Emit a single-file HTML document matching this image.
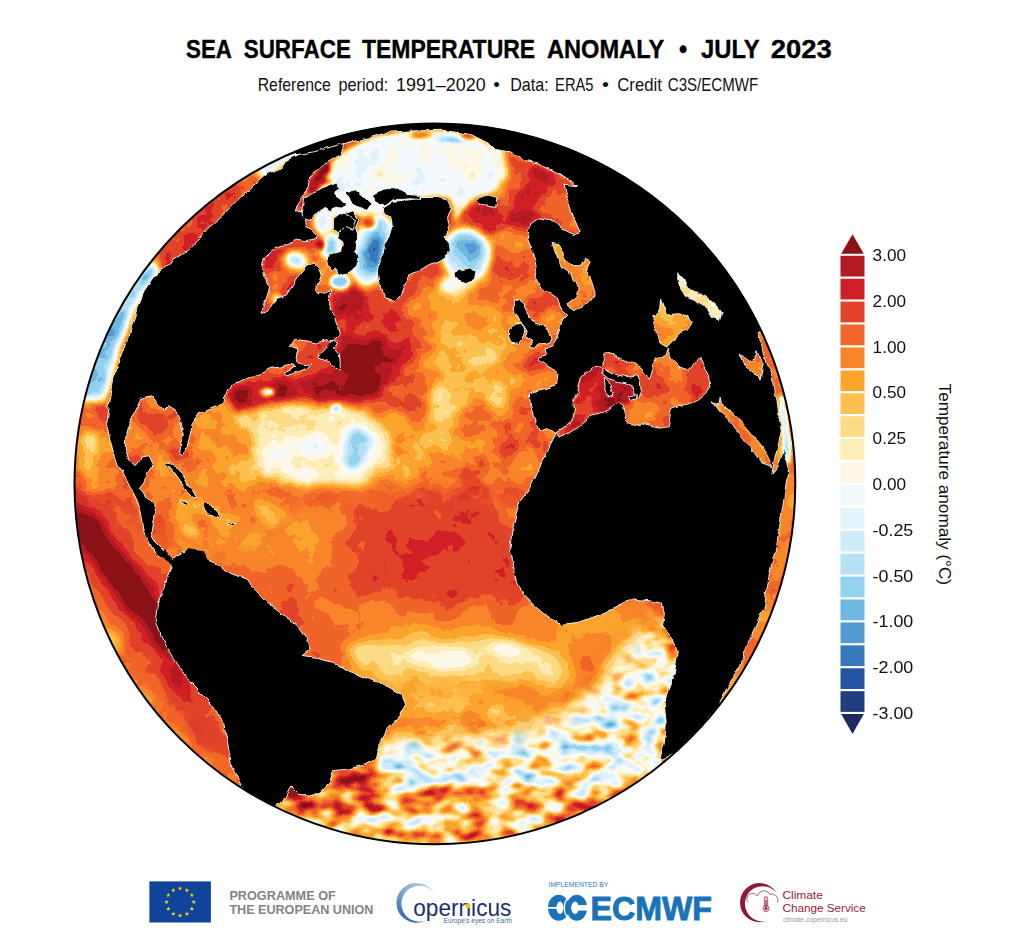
<!DOCTYPE html>
<html><head><meta charset="utf-8"><title>Sea surface temperature anomaly</title>
<style>
html,body{margin:0;padding:0;background:#fff;}
body{width:1015px;height:947px;overflow:hidden;font-family:"Liberation Sans",sans-serif;}
svg{display:block;position:absolute;left:0;top:0;}
text{font-family:"Liberation Sans",sans-serif;fill:#111;}
</style></head><body>
<svg width="1015" height="947" viewBox="0 0 1015 947">
<rect width="1015" height="947" fill="#fff"/>
<g font-size="25.2" font-weight="bold">
<text x="186" y="57.5" textLength="45.9" lengthAdjust="spacingAndGlyphs" style="fill:#000;stroke:#000;stroke-width:0.35">SEA</text>
<text x="243.7" y="57.5" textLength="107.2" lengthAdjust="spacingAndGlyphs" style="fill:#000;stroke:#000;stroke-width:0.35">SURFACE</text>
<text x="361.9" y="57.5" textLength="173.3" lengthAdjust="spacingAndGlyphs" style="fill:#000;stroke:#000;stroke-width:0.35">TEMPERATURE</text>
<text x="546.9" y="57.5" textLength="117.3" lengthAdjust="spacingAndGlyphs" style="fill:#000;stroke:#000;stroke-width:0.35">ANOMALY</text>
<text x="679.0" y="57.5" textLength="8.2" lengthAdjust="spacingAndGlyphs" style="fill:#000;stroke:#000;stroke-width:0.35">•</text>
<text x="701" y="57.5" textLength="58.6" lengthAdjust="spacingAndGlyphs" style="fill:#000;stroke:#000;stroke-width:0.35">JULY</text>
<text x="770.7" y="57.5" textLength="61" lengthAdjust="spacingAndGlyphs" style="fill:#000;stroke:#000;stroke-width:0.35">2023</text>
</g>
<g font-size="18.4">
<text x="257.7" y="90.5" textLength="73" lengthAdjust="spacingAndGlyphs">Reference</text>
<text x="338.4" y="90.5" textLength="49.9" lengthAdjust="spacingAndGlyphs">period:</text>
<text x="396" y="90.5" textLength="89.7" lengthAdjust="spacingAndGlyphs">1991–2020</text>
<text x="493.2" y="90.5" textLength="6.6" lengthAdjust="spacingAndGlyphs">•</text>
<text x="510.2" y="90.5" textLength="38.5" lengthAdjust="spacingAndGlyphs">Data:</text>
<text x="555.1" y="90.5" textLength="38.4" lengthAdjust="spacingAndGlyphs">ERA5</text>
<text x="602" y="90.5" textLength="6.9" lengthAdjust="spacingAndGlyphs">•</text>
<text x="617.3" y="90.5" textLength="44.6" lengthAdjust="spacingAndGlyphs">Credit</text>
<text x="667.8" y="90.5" textLength="90.4" lengthAdjust="spacingAndGlyphs">C3S/ECMWF</text>
</g>
<defs><clipPath id="gc"><circle cx="434.9" cy="483.8" r="360.9"/></clipPath>
<filter id="b10" color-interpolation-filters="sRGB" x="-20%" y="-20%" width="140%" height="140%"><feGaussianBlur stdDeviation="10"/></filter>
<filter id="b5" color-interpolation-filters="sRGB" x="-20%" y="-20%" width="140%" height="140%"><feGaussianBlur stdDeviation="4.5"/></filter>
<filter id="b2" color-interpolation-filters="sRGB" x="-20%" y="-20%" width="140%" height="140%"><feGaussianBlur stdDeviation="2.2"/></filter>
<filter id="b14" color-interpolation-filters="sRGB" filterUnits="userSpaceOnUse" x="40" y="90" width="800" height="790"><feGaussianBlur stdDeviation="12"/></filter>
<filter id="cm" color-interpolation-filters="sRGB" filterUnits="userSpaceOnUse" x="60" y="110" width="760" height="750">
<feTurbulence type="fractalNoise" baseFrequency="0.03" numOctaves="4" seed="7" result="t"/>
<feColorMatrix in="t" type="matrix" values="1 0 0 0 0  1 0 0 0 0  1 0 0 0 0  0 0 0 0 1" result="n"/>
<feComposite in="SourceGraphic" in2="n" operator="arithmetic" k1="0" k2="1" k3="0.13" k4="-0.065" result="s"/>
<feComponentTransfer in="s" result="c"><feFuncR type="discrete" tableValues="0.106 0.122 0.141 0.220 0.318 0.435 0.576 0.706 0.804 0.886 0.953 0.996 0.996 0.992 0.992 0.984 0.976 0.949 0.886 0.816 0.706 0.545"/><feFuncG type="discrete" tableValues="0.165 0.247 0.333 0.471 0.608 0.718 0.824 0.882 0.922 0.953 0.980 0.976 0.929 0.859 0.753 0.647 0.522 0.396 0.263 0.122 0.102 0.071"/><feFuncB type="discrete" tableValues="0.376 0.502 0.639 0.737 0.824 0.890 0.941 0.965 0.973 0.980 0.992 0.902 0.710 0.518 0.310 0.176 0.165 0.161 0.161 0.153 0.133 0.094"/></feComponentTransfer>
<feComposite in="c" in2="SourceAlpha" operator="in"/>
</filter>
<filter id="cm1" color-interpolation-filters="sRGB" filterUnits="userSpaceOnUse" x="60" y="110" width="760" height="750">
<feTurbulence type="fractalNoise" baseFrequency="0.035" numOctaves="4" seed="11" result="t"/>
<feColorMatrix in="t" type="matrix" values="1 0 0 0 0  1 0 0 0 0  1 0 0 0 0  0 0 0 0 1" result="n"/>
<feComposite in="SourceGraphic" in2="n" operator="arithmetic" k1="0" k2="1" k3="0.25" k4="-0.125" result="s"/>
<feComponentTransfer in="s" result="c"><feFuncR type="discrete" tableValues="0.106 0.122 0.141 0.220 0.318 0.435 0.576 0.706 0.804 0.886 0.953 0.996 0.996 0.992 0.992 0.984 0.976 0.949 0.886 0.816 0.706 0.545"/><feFuncG type="discrete" tableValues="0.165 0.247 0.333 0.471 0.608 0.718 0.824 0.882 0.922 0.953 0.980 0.976 0.929 0.859 0.753 0.647 0.522 0.396 0.263 0.122 0.102 0.071"/><feFuncB type="discrete" tableValues="0.376 0.502 0.639 0.737 0.824 0.890 0.941 0.965 0.973 0.980 0.992 0.902 0.710 0.518 0.310 0.176 0.165 0.161 0.161 0.153 0.133 0.094"/></feComponentTransfer>
<feComposite in="c" in2="SourceAlpha" operator="in"/>
</filter>
<filter id="cm2" color-interpolation-filters="sRGB" filterUnits="userSpaceOnUse" x="60" y="110" width="760" height="750">
<feTurbulence type="fractalNoise" baseFrequency="0.045 0.07" numOctaves="2" seed="5" result="t"/>
<feColorMatrix in="t" type="matrix" values="1 0 0 0 0  1 0 0 0 0  1 0 0 0 0  0 0 0 0 1" result="n"/>
<feComposite in="SourceGraphic" in2="n" operator="arithmetic" k1="0" k2="1" k3="0.85" k4="-0.425" result="s"/>
<feComponentTransfer in="s" result="c"><feFuncR type="discrete" tableValues="0.106 0.122 0.141 0.220 0.318 0.435 0.576 0.706 0.804 0.886 0.953 0.996 0.996 0.992 0.992 0.984 0.976 0.949 0.886 0.816 0.706 0.545"/><feFuncG type="discrete" tableValues="0.165 0.247 0.333 0.471 0.608 0.718 0.824 0.882 0.922 0.953 0.980 0.976 0.929 0.859 0.753 0.647 0.522 0.396 0.263 0.122 0.102 0.071"/><feFuncB type="discrete" tableValues="0.376 0.502 0.639 0.737 0.824 0.890 0.941 0.965 0.973 0.980 0.992 0.902 0.710 0.518 0.310 0.176 0.165 0.161 0.161 0.153 0.133 0.094"/></feComponentTransfer>
<feComposite in="c" in2="SourceAlpha" operator="in"/>
</filter>
<filter id="dsp" color-interpolation-filters="sRGB" filterUnits="userSpaceOnUse" x="60" y="110" width="760" height="750">
<feTurbulence type="fractalNoise" baseFrequency="0.09" numOctaves="3" seed="2" result="t"/>
<feDisplacementMap in="SourceGraphic" in2="t" scale="5" xChannelSelector="R" yChannelSelector="G"/>
</filter>
<g id="fld">
<rect x="60" y="110" width="760" height="750" fill="#cbcbcb"/>
<g filter="url(#b10)">
<ellipse cx="470" cy="350" rx="60" ry="75" fill="#bebebe" opacity="1" transform="rotate(0 470 350)"/>
<ellipse cx="466" cy="362" rx="34" ry="54" fill="#aeaeae" opacity="1" transform="rotate(15 466 362)"/>
<ellipse cx="420" cy="440" rx="50" ry="22" fill="#afafaf" opacity="1" transform="rotate(0 420 440)"/>
<ellipse cx="330" cy="442" rx="150" ry="40" fill="#b6b6b6" opacity="1" transform="rotate(3 330 442)"/>
<ellipse cx="250" cy="520" rx="90" ry="40" fill="#b8b8b8" opacity="1" transform="rotate(20 250 520)"/>
<path d="M335.0,285.0 L400.0,298.0 L425.0,340.0 L410.0,400.0 L340.0,405.0 L325.0,340.0Z" fill="#dddddd" opacity="1"/>
<ellipse cx="438" cy="548" rx="88" ry="55" fill="#dadada" opacity="1" transform="rotate(0 438 548)"/>
<ellipse cx="495" cy="575" rx="38" ry="35" fill="#dadada" opacity="1" transform="rotate(0 495 575)"/>
<ellipse cx="450" cy="618" rx="120" ry="16" fill="#c3c3c3" opacity="1" transform="rotate(0 450 618)"/>
<ellipse cx="600" cy="630" rx="62" ry="28" fill="#b9b9b9" opacity="1" transform="rotate(0 600 630)"/>
<path d="M350.0,645.0 L400.0,636.0 L470.0,634.0 L540.0,643.0 L575.0,663.0 L570.0,685.0 L520.0,684.0 L450.0,682.0 L390.0,682.0 L352.0,667.0Z" fill="#989898" opacity="1"/>
<ellipse cx="465" cy="712" rx="120" ry="24" fill="#b1b1b1" opacity="1" transform="rotate(5 465 712)"/>
<path d="M651.0,629.0 L668.0,640.0 L678.0,660.0 L672.0,700.0 L665.0,760.0 L640.0,790.0 L560.0,795.0 L480.0,790.0 L400.0,782.0 L378.0,770.0 L380.0,740.0 L430.0,742.0 L500.0,736.0 L560.0,716.0 L590.0,690.0 L620.0,660.0Z" fill="#838383" opacity="1"/>
<ellipse cx="470" cy="832" rx="190" ry="30" fill="#a3a3a3" opacity="1" transform="rotate(0 470 832)"/>
<ellipse cx="105" cy="450" rx="30" ry="55" fill="#c2c2c2" opacity="1" transform="rotate(10 105 450)"/>
<path d="M66.0,494.0 L94.0,500.0 L124.0,538.0 L156.0,583.0 L174.0,612.0 L182.0,650.0 L192.0,690.0 L220.0,742.0 L207.0,748.0 L188.0,715.0 L168.0,682.0 L150.0,652.0 L126.0,617.0 L100.0,579.0 L70.0,545.0Z" fill="#e9e9e9" opacity="1"/>
<ellipse cx="108" cy="665" rx="20" ry="62" fill="#c2c2c2" opacity="1" transform="rotate(-35 108 665)"/>
<ellipse cx="160" cy="745" rx="14" ry="40" fill="#c2c2c2" opacity="1" transform="rotate(-35 160 745)"/>
</g>
<g filter="url(#b5)">
<path d="M484.6,138.4 L500.6,151.9 L505.5,171.7 L502.3,190.1 L492.0,200.0 L477.2,204.9 L471.0,200.0 L487.0,193.8 L496.9,186.4 L499.4,169.2 L494.4,154.4Z" fill="#515151" opacity="1"/>
<ellipse cx="372" cy="250" rx="20" ry="36" fill="#575757" opacity="1" transform="rotate(15 372 250)"/>
<ellipse cx="372" cy="256" rx="9" ry="22" fill="#2b2b2b" opacity="1" transform="rotate(15 372 256)"/>
<ellipse cx="466" cy="255" rx="24" ry="26" fill="#575757" opacity="1" transform="rotate(0 466 255)"/>
<ellipse cx="470" cy="250" rx="13" ry="15" fill="#474747" opacity="1" transform="rotate(0 470 250)"/>
<ellipse cx="455" cy="284" rx="16" ry="9" fill="#7d7d7d" opacity="1" transform="rotate(0 455 284)"/>
<ellipse cx="490" cy="215" rx="16" ry="22" fill="#e6e6e6" opacity="1" transform="rotate(-10 490 215)"/>
<ellipse cx="520" cy="200" rx="25" ry="30" fill="#dadada" opacity="1" transform="rotate(0 520 200)"/>
<ellipse cx="545" cy="175" rx="14" ry="8" fill="#eeeeee" opacity="1" transform="rotate(25 545 175)"/>
<ellipse cx="285" cy="270" rx="22" ry="28" fill="#d6d6d6" opacity="1" transform="rotate(30 285 270)"/>
<ellipse cx="296" cy="260" rx="11" ry="7" fill="#4e4e4e" opacity="1" transform="rotate(20 296 260)"/>
<ellipse cx="331" cy="246" rx="11" ry="13" fill="#404040" opacity="1" transform="rotate(0 331 246)"/>
<path d="M70.0,400.0 L95.0,340.0 L125.0,290.0 L150.0,262.0 L160.0,270.0 L135.0,305.0 L118.0,350.0 L104.0,400.0Z" fill="#464646" opacity="1"/>
<path d="M150.0,258.0 L200.0,205.0 L250.0,172.0 L262.0,180.0 L225.0,215.0 L190.0,250.0 L165.0,272.0Z" fill="#dcdcdc" opacity="1"/>
<path d="M255.0,170.0 L290.0,150.0 L320.0,140.0 L322.0,146.0 L285.0,160.0 L265.0,178.0Z" fill="#515151" opacity="1"/>
<ellipse cx="361" cy="366" rx="27" ry="38" fill="#eeeeee" opacity="1" transform="rotate(8 361 366)"/>
<ellipse cx="362" cy="368" rx="17" ry="27" fill="#ffffff" opacity="1" transform="rotate(8 362 368)"/>
<ellipse cx="350" cy="320" rx="16" ry="30" fill="#e8e8e8" opacity="1" transform="rotate(10 350 320)"/>
<path d="M228.0,392.0 L262.0,378.0 L300.0,372.0 L342.0,380.0 L345.0,404.0 L300.0,402.0 L262.0,406.0 L232.0,412.0Z" fill="#e9e9e9" opacity="1"/>
<ellipse cx="310" cy="355" rx="18" ry="12" fill="#e8e8e8" opacity="1" transform="rotate(-20 310 355)"/>
<path d="M228.0,415.0 L280.0,404.0 L335.0,406.0 L370.0,415.0 L392.0,440.0 L390.0,470.0 L360.0,487.0 L310.0,485.0 L265.0,480.0 L250.0,455.0 L255.0,435.0Z" fill="#969696" opacity="1"/>
<path d="M262.0,452.0 L300.0,442.0 L335.0,427.0 L365.0,427.0 L380.0,445.0 L375.0,470.0 L345.0,482.0 L300.0,480.0 L270.0,470.0Z" fill="#858585" opacity="1"/>
<ellipse cx="356" cy="448" rx="13" ry="22" fill="#595959" opacity="1" transform="rotate(15 356 448)"/>
<ellipse cx="455" cy="330" rx="22" ry="14" fill="#a3a3a3" opacity="1" transform="rotate(30 455 330)"/>
<ellipse cx="472" cy="392" rx="24" ry="9" fill="#a6a6a6" opacity="1" transform="rotate(-35 472 392)"/>
<ellipse cx="440" cy="405" rx="12" ry="20" fill="#a6a6a6" opacity="1" transform="rotate(20 440 405)"/>
<ellipse cx="498" cy="400" rx="10" ry="18" fill="#a6a6a6" opacity="1" transform="rotate(0 498 400)"/>
<ellipse cx="420" cy="440" rx="30" ry="10" fill="#a8a8a8" opacity="1" transform="rotate(10 420 440)"/>
<ellipse cx="190" cy="528" rx="14" ry="6" fill="#a2a2a2" opacity="1" transform="rotate(35 190 528)"/>
<ellipse cx="440" cy="658" rx="36" ry="10" fill="#838383" opacity="1" transform="rotate(3 440 658)"/>
<ellipse cx="512" cy="650" rx="24" ry="6" fill="#858585" opacity="1" transform="rotate(8 512 650)"/>
<ellipse cx="362" cy="653" rx="14" ry="7" fill="#979797" opacity="1" transform="rotate(10 362 653)"/>
<ellipse cx="408" cy="768" rx="26" ry="28" fill="#7a7a7a" opacity="1" transform="rotate(0 408 768)"/>
<path d="M72.0,506.0 L94.0,516.0 L120.0,550.0 L146.0,586.0 L166.0,620.0 L174.0,660.0 L163.0,654.0 L145.0,628.0 L127.0,604.0 L105.0,575.0 L86.0,549.0 L71.0,530.0Z" fill="#ffffff" opacity="1"/>
<ellipse cx="112" cy="640" rx="7" ry="14" fill="#a2a2a2" opacity="1" transform="rotate(-35 112 640)"/>
<ellipse cx="135" cy="700" rx="9" ry="15" fill="#a2a2a2" opacity="1" transform="rotate(-40 135 700)"/>
<ellipse cx="90" cy="452" rx="7" ry="25" fill="#a2a2a2" opacity="1" transform="rotate(8 90 452)"/>
<ellipse cx="170" cy="740" rx="8" ry="16" fill="#a8a8a8" opacity="1" transform="rotate(-40 170 740)"/>
</g>
<g filter="url(#b2)">
<path d="M371.3,137.2 L408.2,131.0 L442.7,131.0 L472.3,134.7 L487.0,144.6 L494.4,154.4 L499.4,169.2 L496.9,186.4 L487.0,193.8 L472.3,198.7 L467.3,206.1 L460.0,213.5 L455.0,223.4 L450.1,198.7 L437.8,196.3 L423.0,196.3 L408.2,198.7 L398.4,203.7 L388.5,206.1 L381.1,213.5 L371.3,213.5 L363.9,218.4 L354.0,213.5 L339.3,218.4 L326.9,213.5 L317.1,196.3 L322.0,181.5 L326.9,171.7 L331.9,161.8 L341.7,154.4 L351.6,147.0 L363.9,142.1Z" fill="#7d7d7d" opacity="1"/>
<ellipse cx="422" cy="135.5" rx="12" ry="2.2" fill="#e2e2e2" opacity="1" transform="rotate(-2 422 135.5)"/>
<ellipse cx="467" cy="136.5" rx="8" ry="2.2" fill="#e8e8e8" opacity="1" transform="rotate(6 467 136.5)"/>
<ellipse cx="452" cy="140" rx="13" ry="2.2" fill="#3a3a3a" opacity="1" transform="rotate(3 452 140)"/>
<ellipse cx="369" cy="223" rx="7" ry="6" fill="#cbcbcb" opacity="1" transform="rotate(0 369 223)"/>
<ellipse cx="277" cy="299" rx="4" ry="4" fill="#858585" opacity="1" transform="rotate(0 277 299)"/>
<ellipse cx="320" cy="245" rx="5" ry="6" fill="#eeeeee" opacity="1" transform="rotate(0 320 245)"/>
<ellipse cx="340" cy="282" rx="10" ry="7" fill="#4b4b4b" opacity="1" transform="rotate(0 340 282)"/>
<path d="M322.3,165.4 L329.4,164.6 L330.2,170.9 L325.4,178.9 L335.0,180.4 L322.3,185.2 L317.5,191.5 L311.2,194.7 L307.2,188.4 L310.4,180.4 L315.9,174.1Z" fill="#fefefe" opacity="1"/>
<ellipse cx="303" cy="204" rx="4" ry="3" fill="#eeeeee" opacity="1" transform="rotate(0 303 204)"/>
<ellipse cx="324" cy="222" rx="10" ry="13" fill="#7e7e7e" opacity="1" transform="rotate(0 324 222)"/>
<ellipse cx="341" cy="204" rx="10" ry="8" fill="#7e7e7e" opacity="1" transform="rotate(0 341 204)"/>
<ellipse cx="345" cy="146" rx="12" ry="3" fill="#d6d6d6" opacity="1" transform="rotate(-12 345 146)"/>
<ellipse cx="318" cy="152" rx="14" ry="3" fill="#4b4b4b" opacity="1" transform="rotate(-18 318 152)"/>
<ellipse cx="353" cy="462" rx="7" ry="6" fill="#494949" opacity="1" transform="rotate(0 353 462)"/>
<ellipse cx="336" cy="408" rx="4" ry="3" fill="#4b4b4b" opacity="1" transform="rotate(0 336 408)"/>
<ellipse cx="268" cy="392" rx="6" ry="3" fill="#515151" opacity="1" transform="rotate(0 268 392)"/>
</g>
</g>
<mask id="m1" maskUnits="userSpaceOnUse" x="60" y="110" width="760" height="750"><g filter="url(#b14)"><path d="M40,90 H840 V470 L520,500 L330,480 L230,560 L40,480Z" fill="#fff"/><path d="M40,560 L110,640 L230,790 L40,800Z" fill="#fff"/><path d="M330,690 L700,690 L700,900 L330,900Z" fill="#fff"/></g></mask>
<mask id="m2" maskUnits="userSpaceOnUse" x="60" y="110" width="760" height="750"><g filter="url(#b14)"><path d="M370,748 L440,738 L520,738 L580,712 L622,662 L652,622 L700,600 L720,900 L200,900 L250,790Z" fill="#fff"/></g></mask>
</defs>
<g clip-path="url(#gc)">
<g filter="url(#cm)"><use href="#fld"/></g>
<g mask="url(#m1)"><g filter="url(#cm1)"><use href="#fld"/></g></g>
<g mask="url(#m2)"><g filter="url(#cm2)"><use href="#fld"/></g></g>
<g filter="url(#dsp)">
<g fill="#000" stroke="#fff" stroke-width="0.9" stroke-linejoin="round">
<path d="M320.0,145.8 L304.0,151.9 L286.7,160.6 L281.8,168.0 L267.0,174.1 L252.3,186.4 L237.5,201.2 L222.7,216.0 L207.9,228.3 L195.6,243.1 L188.2,250.5 L175.9,257.9 L163.6,267.7 L153.7,277.6 L143.9,292.3 L136.5,309.6 L131.6,326.8 L127.9,341.6 L126.7,340.0 L119.3,359.7 L114.3,376.9 L110.6,396.7 L108.2,413.9 L106.9,423.7 L109.4,438.5 L114.3,453.3 L119.3,468.1 L125.4,477.9 L131.6,490.2 L137.7,502.6 L141.4,517.3 L142.7,529.7 L148.8,542.0 L156.2,554.3 L159.9,556.7 L164.8,551.8 L168.5,554.3 L162.4,549.4 L155.0,542.0 L151.3,532.1 L152.5,522.3 L156.2,512.4 L153.7,505.0 L146.4,497.6 L140.2,487.8 L143.9,482.9 L147.6,473.0 L153.7,463.2 L150.0,455.8 L141.4,457.0 L135.3,465.6 L129.1,460.7 L125.4,450.8 L125.4,438.5 L129.1,423.7 L136.5,409.0 L141.4,399.1 L151.3,396.7 L158.7,402.8 L164.8,410.2 L168.5,406.5 L175.9,411.4 L179.6,418.8 L183.3,431.1 L180.8,443.4 L179.6,453.3 L182.1,455.3 L185.8,450.8 L189.5,438.5 L191.9,423.7 L198.1,413.9 L207.9,410.2 L217.8,406.5 L223.9,401.6 L227.6,389.3 L235.0,384.3 L244.9,379.4 L257.2,374.5 L262.5,372.6 L269.4,368.7 L281.2,366.7 L289.1,364.3 L295.0,366.7 L284.2,372.2 L287.1,375.6 L297.0,372.2 L308.8,367.7 L310.8,363.7 L304.9,364.7 L298.0,362.8 L295.0,356.8 L297.0,350.9 L289.1,348.0 L295.0,339.1 L308.8,341.5 L318.7,343.4 L328.5,340.3 L332.5,339.1 L339.4,333.2 L337.4,325.3 L334.4,317.4 L330.5,309.6 L329.5,301.7 L329.7,296.2 L332.0,289.1 L327.3,291.5 L319.0,293.8 L315.5,289.1 L319.0,282.0 L321.4,274.9 L319.0,267.8 L314.3,263.1 L307.7,265.2 L299.1,275.1 L292.9,285.0 L286.7,294.8 L276.9,298.5 L272.0,304.7 L267.0,312.0 L262.1,313.3 L263.3,304.7 L267.0,297.3 L269.5,287.4 L265.8,277.6 L262.1,267.7 L264.6,257.9 L274.4,249.2 L277.9,247.0 L285.8,245.4 L292.2,242.2 L295.3,239.1 L304.8,240.6 L314.4,239.1 L317.5,234.3 L312.8,229.5 L306.4,226.4 L305.6,220.0 L308.0,213.7 L301.7,211.3 L295.3,212.1 L298.5,202.6 L304.1,194.7 L308.0,188.4 L309.6,177.3 L315.9,172.5 L323.9,164.6 L333.4,159.1 L339.7,155.1 L342.9,148.8 L344.4,134.5 L290.0,100.0 L200.0,140.0Z"/>
<path d="M300.0,100.0 L290.0,155.6 L314.6,151.9 L339.3,144.6 L371.3,137.2 L388.5,132.2 L408.2,131.0 L442.7,130.3 L472.3,134.7 L487.0,142.1 L494.4,149.5 L511.7,151.9 L526.5,161.8 L540.0,164.3 L544.6,167.1 L559.4,174.5 L569.3,179.4 L576.7,185.6 L564.3,184.3 L566.8,196.7 L571.7,211.4 L574.2,218.8 L580.3,232.4 L574.2,234.8 L561.9,228.7 L554.5,221.3 L539.7,218.8 L529.9,223.7 L527.4,238.5 L532.3,250.8 L537.2,265.6 L534.8,277.9 L542.2,290.2 L545.0,291.7 L550.9,292.7 L557.8,297.6 L559.8,305.5 L562.8,311.4 L566.7,315.3 L561.8,320.2 L558.8,329.1 L555.9,337.0 L552.9,344.9 L545.0,347.8 L547.0,354.7 L539.1,356.7 L536.7,360.2 L545.0,364.6 L552.9,368.5 L558.8,374.4 L557.8,384.3 L547.0,388.2 L537.1,390.2 L529.3,393.2 L530.2,404.0 L533.2,415.8 L537.1,425.7 L539.1,430.6 L547.0,427.6 L551.9,430.6 L555.9,433.5 L552.9,439.5 L549.0,447.3 L545.0,456.0 L542.9,458.6 L537.1,472.9 L528.6,490.0 L520.0,501.4 L517.9,509.1 L512.0,528.6 L510.1,548.1 L514.0,567.6 L517.9,583.3 L523.7,595.0 L535.4,606.7 L547.2,616.5 L562.8,624.3 L578.4,622.3 L594.0,616.5 L613.6,608.6 L633.1,598.9 L648.7,600.8 L662.4,602.8 L664.3,614.5 L662.4,626.2 L672.1,637.9 L678.0,653.6 L674.1,673.1 L668.2,688.7 L664.3,704.3 L666.3,723.9 L664.3,743.4 L660.4,757.1 L700.0,800.0 L850.0,650.0 L900.0,450.0 L800.0,150.0 L500.0,60.0Z"/>
<path d="M173.3,559.8 L181.1,552.0 L196.7,550.1 L202.6,557.9 L216.2,563.7 L231.8,573.5 L247.5,579.4 L255.3,591.1 L267.0,602.8 L282.6,614.5 L298.2,626.2 L306.0,637.9 L310.0,649.7 L302.1,655.5 L317.8,657.5 L333.4,661.4 L349.0,671.1 L368.5,678.9 L388.1,686.8 L401.7,694.6 L405.6,704.3 L399.8,716.0 L388.1,727.8 L380.2,743.4 L376.3,759.0 L364.6,764.9 L349.0,768.8 L333.4,770.7 L329.5,782.4 L319.7,792.2 L310.0,796.1 L298.2,794.2 L290.4,786.3 L282.6,802.0 L274.8,805.9 L263.1,813.7 L243.6,790.2 L231.8,766.8 L224.0,723.9 L208.4,700.4 L188.9,680.9 L173.3,657.5 L161.5,637.9 L155.7,618.4 L157.6,602.8 L163.5,587.2 L169.4,571.5Z"/>
<path d="M383.6,207.4 L393.4,201.2 L408.2,200.0 L423.0,197.5 L437.8,197.5 L447.6,200.0 L451.3,208.6 L447.6,218.4 L450.1,230.8 L443.9,238.2 L450.1,243.1 L451.3,250.5 L442.7,257.9 L435.3,262.8 L427.9,265.2 L418.1,271.4 L408.2,275.1 L404.5,285.0 L400.8,294.8 L394.7,302.2 L388.5,299.7 L382.4,292.3 L378.7,282.5 L377.4,272.6 L378.7,262.8 L382.4,255.4 L384.8,245.5 L388.5,238.2 L392.2,225.8 L391.0,218.4 L383.6,213.5Z"/>
<path d="M453.8,272.6 L460.0,270.2 L469.8,267.7 L476.0,272.6 L474.7,278.8 L467.3,283.7 L460.0,281.3 L455.0,277.6Z"/>
<path d="M477.2,200.0 L487.0,195.0 L496.9,197.5 L495.7,207.4 L487.0,206.1 L479.7,204.9Z"/>
<path d="M344.5,213.7 L354.0,210.5 L358.7,220.0 L355.5,228.0 L358.7,239.0 L356.9,241.8 L355.7,251.3 L358.0,257.2 L356.9,265.5 L350.9,271.4 L341.5,276.1 L336.8,273.7 L335.6,267.8 L332.0,271.4 L328.5,265.5 L327.3,257.2 L330.8,253.6 L341.5,250.1 L343.8,241.8 L336.8,237.1 L339.7,235.9 L336.5,226.4 L339.7,218.5Z"/>
<path d="M303.6,198.2 L311.2,193.1 L317.5,190.7 L323.9,186.8 L336.5,182.0 L339.7,188.4 L333.4,193.1 L339.7,197.9 L346.0,204.2 L339.7,207.4 L330.2,210.5 L323.9,207.4 L317.5,213.7 L311.2,220.0 L304.1,217.7 L300.9,213.7 L302.5,205.8Z"/>
<path d="M346.0,191.5 L355.5,189.9 L365.0,197.9 L371.4,204.2 L366.6,210.5 L358.7,207.4 L352.4,204.2Z"/>
<path d="M333.4,218.5 L339.7,213.7 L349.2,215.3 L355.5,220.0 L352.4,229.5 L344.4,226.4 L338.1,232.7 L333.4,228.0Z"/>
<path d="M371.4,194.7 L379.3,189.9 L390.4,188.4 L401.5,189.9 L409.4,194.7 L420.0,195.5 L420.0,199.4 L409.4,198.7 L403.1,199.4 L393.6,199.4 L387.2,204.2 L380.9,205.8 L374.5,201.0Z"/>
<path d="M508.5,330.2 L514.5,324.2 L521.6,323.2 L524.6,330.2 L523.6,338.3 L518.6,344.3 L511.5,343.3 L508.5,337.3Z"/>
<path d="M514.5,301.0 L520.0,299.5 L525.5,303.0 L526.0,313.0 L530.0,319.5 L538.6,323.5 L546.7,327.5 L551.7,336.0 L548.7,342.3 L540.6,344.3 L534.6,348.3 L530.6,346.3 L532.6,341.0 L527.6,338.5 L527.5,332.0 L524.5,327.0 L520.5,321.5 L516.0,316.0 L512.5,309.0Z"/>
<path d="M332.5,340.1 L337.4,343.1 L334.4,348.0 L339.4,353.9 L340.3,362.8 L338.4,369.7 L333.4,366.7 L328.5,362.8 L322.6,360.8 L317.7,358.8 L320.6,352.9 L326.6,347.0Z"/>
<path d="M164.8,462.7 L173.4,464.4 L180.8,473.0 L187.0,484.1 L193.2,491.5 L198.1,497.6 L194.4,497.6 L185.8,490.2 L178.4,477.9 L171.0,468.1 L164.8,465.6Z"/>
<path d="M203.0,502.6 L211.6,505.0 L217.8,512.4 L222.7,518.6 L215.3,516.1 L207.9,514.9 L204.2,510.0Z"/>
<path d="M180.8,500.1 L187.0,503.1 L185.8,505.5 L181.3,503.1Z"/>
<path d="M227.6,521.8 L235.5,523.7 L234.5,525.7 L227.6,524.2Z"/>
</g>
<path d="M156.2,553.8 L164.1,548.9 L173.4,560.0 L179.6,556.3 L188.2,548.9 L203.0,551.3 L207.9,561.7 L198.1,573.0 L178.4,573.0 L168.5,561.7Z" fill="#000"/>
<g filter="url(#cm1)"><g stroke="none">
<path d="M552.0,243.4 L559.4,244.7 L563.1,255.8 L571.7,265.6 L580.3,265.6 L585.3,258.2 L590.2,260.7 L586.5,270.5 L591.4,280.4 L595.1,292.7 L591.4,300.1 L581.6,307.5 L573.0,310.0 L566.8,305.0 L576.7,297.6 L579.1,287.8 L573.0,280.4 L570.5,273.0 L560.6,265.6 L556.9,255.8Z" fill="#bfbfbf"/>
<path d="M661.6,300.1 L665.3,310.0 L667.8,314.9 L677.6,313.6 L687.5,316.1 L691.2,322.3 L687.5,329.7 L677.6,334.6 L672.7,342.0 L666.6,348.1 L660.4,344.4 L656.7,334.6 L654.2,324.7 L651.8,316.1 L655.5,317.3 L660.4,310.0Z" fill="#b4b4b4"/>
<path d="M677.6,271.8 L683.8,277.9 L687.5,287.8 L697.3,292.7 L707.2,297.6 L717.0,306.3 L722.0,312.4 L719.5,319.8 L712.1,317.3 L707.2,308.7 L697.3,302.6 L687.5,297.6 L681.3,290.2 L677.6,280.4Z" fill="#919191"/>
<path d="M555.7,432.9 L565.7,426.6 L572.9,420.9 L575.7,411.4 L572.9,402.9 L578.6,388.6 L581.4,378.6 L594.9,366.6 L601.4,367.1 L605.7,358.6 L604.3,354.3 L611.4,352.9 L621.4,358.6 L634.3,362.9 L642.9,370.0 L648.6,378.6 L652.9,364.3 L657.1,357.1 L665.7,355.7 L668.6,348.6 L671.4,358.6 L680.0,367.1 L688.6,370.0 L694.3,364.3 L700.0,357.1 L702.9,364.3 L708.6,375.7 L710.0,387.1 L705.7,394.3 L698.6,400.0 L688.6,404.3 L678.6,405.7 L671.4,408.6 L670.0,418.6 L668.6,425.7 L660.0,427.1 L651.4,425.7 L642.9,422.9 L634.3,424.3 L627.1,422.9 L625.7,414.3 L622.9,405.7 L617.1,402.9 L608.6,410.0 L600.0,414.3 L591.4,415.7 L584.3,421.4 L577.1,427.1 L568.6,432.9 L560.0,436.3Z" fill="#cecece"/>
<path d="M711.6,400.3 L719.0,405.6 L720.1,397.1 L722.2,405.6 L731.7,411.9 L742.2,422.5 L752.8,435.2 L763.4,447.8 L770.7,462.6 L771.8,466.8 L761.2,462.6 L750.7,447.8 L740.1,435.2 L729.6,422.5 L720.1,411.9Z" fill="#c3c3c3"/>
<path d="M740.1,354.9 L748.6,361.2 L754.9,359.1 L757.0,350.7 L763.4,363.4 L760.2,379.2 L754.9,373.9 L747.5,367.6 L742.2,362.3Z" fill="#cbcbcb"/>
<path d="M758.1,331.7 L761.2,342.2 L763.4,354.9 L769.7,369.7 L773.9,384.5 L777.1,401.4 L779.2,418.3 L781.3,430.9 L778.1,445.7 L773.9,460.5 L771.8,475.3 L777.1,469.0 L781.3,456.3 L784.5,447.8 L786.6,460.5 L788.7,475.3 L786.6,480.0 L777.0,543.0 L769.0,575.0 L764.4,606.6 L750.0,638.0 L737.5,670.0 L720.0,701.5 L698.0,733.0 L676.0,752.0 L660.0,760.0 L700.0,800.0 L850.0,650.0 L900.0,450.0 L800.0,300.0Z" fill="#c3c3c3"/>
<path d="M779.0,395.0 L784.0,398.0 L789.0,430.0 L790.0,462.0 L785.0,460.0 L782.0,432.0Z" fill="#575757" filter="url(#b2)"/>
<path d="M555.7,432.9 L565.7,426.6 L572.9,420.9 L575.7,411.4 L572.9,402.9 L578.6,388.6 L581.4,378.6 L594.9,366.6 L601.4,367.1 L605.7,371.4 L614.3,375.7 L628.6,378.6 L634.3,387.1 L633.7,396.3 L626.3,404.9 L617.1,402.9 L608.6,410.0 L600.0,414.3 L591.4,415.7 L584.3,421.4 L577.1,427.1 L568.6,432.9 L560.0,436.3Z" fill="#e9e9e9" filter="url(#b2)"/>
</g></g>
<g fill="none" stroke="#fff" stroke-width="0.8" stroke-linejoin="round">
<path d="M552.0,243.4 L559.4,244.7 L563.1,255.8 L571.7,265.6 L580.3,265.6 L585.3,258.2 L590.2,260.7 L586.5,270.5 L591.4,280.4 L595.1,292.7 L591.4,300.1 L581.6,307.5 L573.0,310.0 L566.8,305.0 L576.7,297.6 L579.1,287.8 L573.0,280.4 L570.5,273.0 L560.6,265.6 L556.9,255.8Z"/>
<path d="M661.6,300.1 L665.3,310.0 L667.8,314.9 L677.6,313.6 L687.5,316.1 L691.2,322.3 L687.5,329.7 L677.6,334.6 L672.7,342.0 L666.6,348.1 L660.4,344.4 L656.7,334.6 L654.2,324.7 L651.8,316.1 L655.5,317.3 L660.4,310.0Z"/>
<path d="M677.6,271.8 L683.8,277.9 L687.5,287.8 L697.3,292.7 L707.2,297.6 L717.0,306.3 L722.0,312.4 L719.5,319.8 L712.1,317.3 L707.2,308.7 L697.3,302.6 L687.5,297.6 L681.3,290.2 L677.6,280.4Z"/>
<path d="M555.7,432.9 L565.7,426.6 L572.9,420.9 L575.7,411.4 L572.9,402.9 L578.6,388.6 L581.4,378.6 L594.9,366.6 L601.4,367.1 L605.7,358.6 L604.3,354.3 L611.4,352.9 L621.4,358.6 L634.3,362.9 L642.9,370.0 L648.6,378.6 L652.9,364.3 L657.1,357.1 L665.7,355.7 L668.6,348.6 L671.4,358.6 L680.0,367.1 L688.6,370.0 L694.3,364.3 L700.0,357.1 L702.9,364.3 L708.6,375.7 L710.0,387.1 L705.7,394.3 L698.6,400.0 L688.6,404.3 L678.6,405.7 L671.4,408.6 L670.0,418.6 L668.6,425.7 L660.0,427.1 L651.4,425.7 L642.9,422.9 L634.3,424.3 L627.1,422.9 L625.7,414.3 L622.9,405.7 L617.1,402.9 L608.6,410.0 L600.0,414.3 L591.4,415.7 L584.3,421.4 L577.1,427.1 L568.6,432.9 L560.0,436.3Z"/>
<path d="M711.6,400.3 L719.0,405.6 L720.1,397.1 L722.2,405.6 L731.7,411.9 L742.2,422.5 L752.8,435.2 L763.4,447.8 L770.7,462.6 L771.8,466.8 L761.2,462.6 L750.7,447.8 L740.1,435.2 L729.6,422.5 L720.1,411.9Z"/>
<path d="M740.1,354.9 L748.6,361.2 L754.9,359.1 L757.0,350.7 L763.4,363.4 L760.2,379.2 L754.9,373.9 L747.5,367.6 L742.2,362.3Z"/>
<path d="M758.1,331.7 L761.2,342.2 L763.4,354.9 L769.7,369.7 L773.9,384.5 L777.1,401.4 L779.2,418.3 L781.3,430.9 L778.1,445.7 L773.9,460.5 L771.8,475.3 L777.1,469.0 L781.3,456.3 L784.5,447.8 L786.6,460.5 L788.7,475.3 L786.6,480.0 L777.0,543.0 L769.0,575.0 L764.4,606.6 L750.0,638.0 L737.5,670.0 L720.0,701.5 L698.0,733.0 L676.0,752.0 L660.0,760.0 L700.0,800.0 L850.0,650.0 L900.0,450.0 L800.0,300.0Z"/>
</g>
<g fill="#000" stroke="#fff" stroke-width="0.9" stroke-linejoin="round">
<path d="M602.9,368.6 L611.4,372.9 L620.0,375.7 L630.0,377.1 L637.1,375.7 L640.0,381.4 L641.4,391.4 L638.6,398.6 L634.3,394.3 L632.9,385.7 L627.1,382.9 L617.1,381.4 L608.6,378.6 L602.9,374.3Z"/>
<path d="M604.3,377.1 L608.6,381.4 L612.9,394.3 L608.6,397.1 L605.1,388.6Z"/>
<path d="M627.1,396.3 L637.1,394.3 L637.7,398.6 L631.4,400.0Z"/>
</g>
</g>
</g>
<circle cx="434.9" cy="483.8" r="360.4" fill="none" stroke="#000" stroke-width="2"/>
<g>
<polygon points="841.2,253.7 863.8,253.7 852.5,234.2" fill="#8b1218"/>
<rect x="840.5" y="255.80" width="24" height="20.71" fill="#b41a22"/>
<rect x="840.5" y="278.72" width="24" height="20.71" fill="#d01f27"/>
<rect x="840.5" y="301.63" width="24" height="20.71" fill="#e24329"/>
<rect x="840.5" y="324.55" width="24" height="20.71" fill="#f26529"/>
<rect x="840.5" y="347.46" width="24" height="20.71" fill="#f9852a"/>
<rect x="840.5" y="370.38" width="24" height="20.71" fill="#fba52d"/>
<rect x="840.5" y="393.29" width="24" height="20.71" fill="#fdc04f"/>
<rect x="840.5" y="416.21" width="24" height="20.71" fill="#fddb84"/>
<rect x="840.5" y="439.12" width="24" height="20.71" fill="#feedb5"/>
<rect x="840.5" y="462.03" width="24" height="20.71" fill="#fef9e6"/>
<rect x="840.5" y="484.95" width="24" height="20.71" fill="#f3fafd"/>
<rect x="840.5" y="507.87" width="24" height="20.71" fill="#e2f3fa"/>
<rect x="840.5" y="530.78" width="24" height="20.71" fill="#cdebf8"/>
<rect x="840.5" y="553.70" width="24" height="20.71" fill="#b4e1f6"/>
<rect x="840.5" y="576.61" width="24" height="20.71" fill="#93d2f0"/>
<rect x="840.5" y="599.52" width="24" height="20.71" fill="#6fb7e3"/>
<rect x="840.5" y="622.44" width="24" height="20.71" fill="#519bd2"/>
<rect x="840.5" y="645.36" width="24" height="20.71" fill="#3878bc"/>
<rect x="840.5" y="668.27" width="24" height="20.71" fill="#2455a3"/>
<rect x="840.5" y="691.19" width="24" height="20.71" fill="#1f3f80"/>
<polygon points="841.2,714 863.8,714 852.5,733.9" fill="#1b2a60"/>
<text x="872.6" y="260.8" font-size="17" textLength="33.4" lengthAdjust="spacingAndGlyphs">3.00</text>
<text x="872.6" y="306.6" font-size="17" textLength="33.4" lengthAdjust="spacingAndGlyphs">2.00</text>
<text x="872.6" y="352.5" font-size="17" textLength="33.4" lengthAdjust="spacingAndGlyphs">1.00</text>
<text x="872.6" y="398.3" font-size="17" textLength="33.4" lengthAdjust="spacingAndGlyphs">0.50</text>
<text x="872.6" y="444.1" font-size="17" textLength="33.4" lengthAdjust="spacingAndGlyphs">0.25</text>
<text x="872.6" y="489.9" font-size="17" textLength="33.4" lengthAdjust="spacingAndGlyphs">0.00</text>
<text x="872.6" y="535.8" font-size="17" textLength="40.7" lengthAdjust="spacingAndGlyphs">-0.25</text>
<text x="872.6" y="581.6" font-size="17" textLength="40.7" lengthAdjust="spacingAndGlyphs">-0.50</text>
<text x="872.6" y="627.4" font-size="17" textLength="40.7" lengthAdjust="spacingAndGlyphs">-1.00</text>
<text x="872.6" y="673.3" font-size="17" textLength="40.7" lengthAdjust="spacingAndGlyphs">-2.00</text>
<text x="872.6" y="719.1" font-size="17" textLength="40.7" lengthAdjust="spacingAndGlyphs">-3.00</text>
<text transform="translate(938.8,383.6) rotate(90)" font-size="17" textLength="201.5" lengthAdjust="spacingAndGlyphs">Temperature anomaly (°C)</text>
</g>

<g id="eu">
<rect x="149.4" y="881.4" width="61.5" height="41.1" fill="#10439a"/>
<g fill="#ffdd00"><polygon points="180.10,886.00 180.64,887.66 182.38,887.66 180.97,888.68 181.51,890.34 180.10,889.32 178.69,890.34 179.23,888.68 177.82,887.66 179.56,887.66"/><polygon points="186.90,887.82 187.44,889.48 189.18,889.48 187.77,890.51 188.31,892.16 186.90,891.14 185.49,892.16 186.03,890.51 184.62,889.48 186.36,889.48"/><polygon points="191.88,892.80 192.42,894.46 194.16,894.46 192.75,895.48 193.29,897.14 191.88,896.12 190.47,897.14 191.01,895.48 189.60,894.46 191.34,894.46"/><polygon points="193.70,899.60 194.24,901.26 195.98,901.26 194.57,902.28 195.11,903.94 193.70,902.92 192.29,903.94 192.83,902.28 191.42,901.26 193.16,901.26"/><polygon points="191.88,906.40 192.42,908.06 194.16,908.06 192.75,909.08 193.29,910.74 191.88,909.72 190.47,910.74 191.01,909.08 189.60,908.06 191.34,908.06"/><polygon points="186.90,911.38 187.44,913.04 189.18,913.04 187.77,914.06 188.31,915.72 186.90,914.69 185.49,915.72 186.03,914.06 184.62,913.04 186.36,913.04"/><polygon points="180.10,913.20 180.64,914.86 182.38,914.86 180.97,915.88 181.51,917.54 180.10,916.52 178.69,917.54 179.23,915.88 177.82,914.86 179.56,914.86"/><polygon points="173.30,911.38 173.84,913.04 175.58,913.04 174.17,914.06 174.71,915.72 173.30,914.69 171.89,915.72 172.43,914.06 171.02,913.04 172.76,913.04"/><polygon points="168.32,906.40 168.86,908.06 170.60,908.06 169.19,909.08 169.73,910.74 168.32,909.72 166.91,910.74 167.45,909.08 166.04,908.06 167.78,908.06"/><polygon points="166.50,899.60 167.04,901.26 168.78,901.26 167.37,902.28 167.91,903.94 166.50,902.92 165.09,903.94 165.63,902.28 164.22,901.26 165.96,901.26"/><polygon points="168.32,892.80 168.86,894.46 170.60,894.46 169.19,895.48 169.73,897.14 168.32,896.12 166.91,897.14 167.45,895.48 166.04,894.46 167.78,894.46"/><polygon points="173.30,887.82 173.84,889.48 175.58,889.48 174.17,890.51 174.71,892.16 173.30,891.14 171.89,892.16 172.43,890.51 171.02,889.48 172.76,889.48"/></g>
<text x="229.4" y="899.8" font-size="12.6" font-weight="bold" style="fill:#828385" textLength="106.4" lengthAdjust="spacingAndGlyphs">PROGRAMME OF</text>
<text x="229.4" y="913.9" font-size="12.6" font-weight="bold" style="fill:#828385" textLength="144" lengthAdjust="spacingAndGlyphs">THE EUROPEAN UNION</text>
</g>
<g id="copernicus">
<defs><linearGradient id="cg" x1="0.7" y1="0" x2="0.2" y2="1"><stop offset="0" stop-color="#a9cbe6"/><stop offset="0.5" stop-color="#6f9fcc"/><stop offset="1" stop-color="#2a5f9e"/></linearGradient></defs>
<path fill="url(#cg)" fill-rule="evenodd" d="M433.4,892.6 A19.9,19.9 0 1 0 425.2,920.6 A17.9,17.9 0 1 1 433.4,892.6 Z"/>
<text x="413.3" y="915.6" font-size="24" style="fill:#1b2f6b" textLength="98" lengthAdjust="spacingAndGlyphs">opernicus</text>
<circle cx="467.9" cy="905.7" r="2.5" fill="#f5c400"/>
<text x="443.6" y="922.6" font-size="6.8" style="fill:#3a6ea8" textLength="68.3" lengthAdjust="spacingAndGlyphs">Europe's eyes on Earth</text>
</g>
<g id="ecmwf">
<text x="548.5" y="887.2" font-size="6.8" style="fill:#2a7ab9" textLength="59.8" lengthAdjust="spacingAndGlyphs">IMPLEMENTED BY</text>
<g fill="#1a73b8">
<path fill-rule="evenodd" d="M548,907.8 a10.6,13 0 1 0 21.2,0 a10.6,13 0 1 0 -21.2,0 Z M556.5,907.8 a3.5,6.2 0 1 0 7,0 a3.5,6.2 0 1 0 -7,0 Z"/>
<path fill-rule="evenodd" d="M566.5,907.8 a10.3,13 0 1 0 20.6,0 a10.3,13 0 1 0 -20.6,0 Z M571.2,907.8 a3.8,6.2 0 1 0 7.6,0 a3.8,6.2 0 1 0 -7.6,0 Z"/>
</g>
<rect x="575" y="905" width="13" height="5.6" fill="#fff"/>
<rect x="546.5" y="907" width="13.5" height="1.7" fill="#fff"/>
<path d="M569.5,896.5 A10.3,13 0 0 0 569.5,919.1" fill="none" stroke="#fff" stroke-width="1.3"/>
<text x="590.6" y="919.5" font-size="33" font-weight="bold" style="fill:#1a73b8;stroke:#1a73b8;stroke-width:0.9" textLength="121.4" lengthAdjust="spacingAndGlyphs">ECMWF</text>
</g>
<g id="c3s">
<path fill="#8f1838" fill-rule="evenodd" d="M777.3,894.2 A19.6,19.6 0 1 0 767,920.8 A17.6,17.6 0 1 1 777.3,894.2 Z"/>
<path d="M747.7,902.3 A5.2,5.2 0 0 1 757.3,896 A6.8,6.8 0 0 1 769.9,894.4 A6,6 0 0 1 777.5,902.3" fill="none" stroke="#b0506a" stroke-width="0.9"/>
<rect x="764.3" y="896.6" width="3.4" height="11" rx="1.7" fill="#f3d5dc" stroke="#a02c4c" stroke-width="0.8"/>
<circle cx="766" cy="908.6" r="3" fill="#f3d5dc" stroke="#a02c4c" stroke-width="0.8"/>
<circle cx="766" cy="908.6" r="1.5" fill="#a02c4c"/>
<rect x="765.4" y="900" width="1.2" height="8" fill="#a02c4c"/>
<text x="782.5" y="898.7" font-size="11.8" style="fill:#941c3a" textLength="40.3" lengthAdjust="spacingAndGlyphs">Climate</text>
<text x="782.5" y="911.7" font-size="11.8" style="fill:#941c3a" textLength="83.2" lengthAdjust="spacingAndGlyphs">Change Service</text>
<text x="782.9" y="922" font-size="6.4" style="fill:#9a9a9a" textLength="64.6" lengthAdjust="spacingAndGlyphs">climate.copernicus.eu</text>
</g>

</svg>
</body></html>
